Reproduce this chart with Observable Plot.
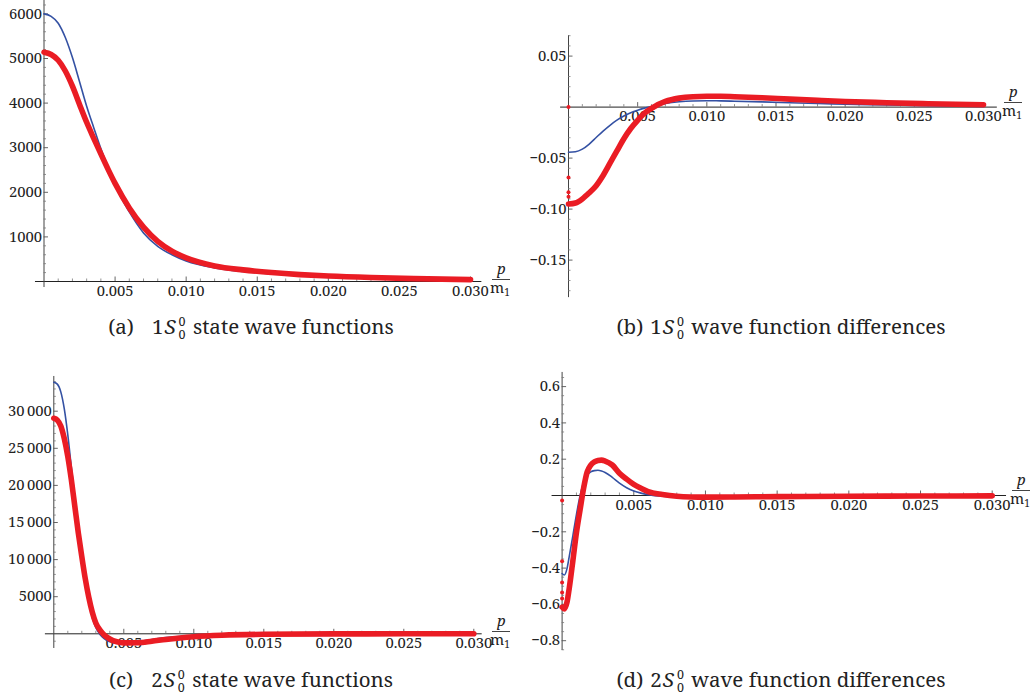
<!DOCTYPE html>
<html>
<head>
<meta charset="utf-8">
<script src="https://cdn.jsdelivr.net/npm/d3@7"></script>
<script src="https://cdn.jsdelivr.net/npm/@observablehq/plot@0.6"></script>
<style>
  html, body { margin: 0; padding: 0; background: #fff; }
  body { width: 1031px; height: 694px; position: relative; overflow: hidden;
         font-family: "Noto Serif", "DejaVu Serif", serif; color: #222; }
  .panel { position: absolute; }
  .cap { position: absolute; width: 600px; text-align: center; font-size: 20.5px;
         line-height: 26px; white-space: nowrap; color: #222; }
  .cap .lab { display: inline-block; }
  .cap i { display: inline-block; margin-left: 1px; }
  .ss { display: inline-flex; flex-direction: column; font-size: 12.5px; line-height: 13px;
        vertical-align: 8px; margin-left: 3px; margin-right: 2px; }
  .ss span { display: block; height: 13px; }
  .frac { position: absolute; width: 0; height: 0; font-size: 15px; color: #222; }
  .frac .num { position: absolute; top: -19px; line-height: 16px; font-style: italic; }
  .frac .bar { position: absolute; left: 0; top: 0; width: 18px; border-top: 1px solid #444; }
  .frac .den { position: absolute; top: 0px; left: -2px; line-height: 16px; white-space: nowrap; }
  .frac .den sub { font-size: 10px; vertical-align: -3px; }
</style>
</head>
<body>
<div id="root"></div>
<script>
// ---------------- data ----------------
const xTicks = [0.005, 0.010, 0.015, 0.020, 0.025, 0.030];
const xTickLabels = ["0.005", "0.010", "0.015", "0.020", "0.025", "0.030"];

// (a) 1S state wave functions
const pA = [0, 0.0005, 0.001, 0.0015, 0.002, 0.0025, 0.003, 0.0035, 0.004, 0.0045, 0.005, 0.006, 0.007, 0.008, 0.009, 0.010, 0.012, 0.014, 0.016, 0.018, 0.020, 0.023, 0.026, 0.030];
const blueA = [6000, 5945, 5790, 5470, 5020, 4480, 3930, 3450, 2980, 2560, 2160, 1560, 1090, 790, 600, 460, 305, 225, 175, 135, 105, 75, 55, 35];
const redA = [5140, 5090, 4960, 4720, 4380, 3970, 3570, 3210, 2860, 2520, 2200, 1650, 1220, 900, 680, 530, 350, 260, 200, 155, 122, 88, 64, 42];
const yTicksA = [1000, 2000, 3000, 4000, 5000, 6000];
const yLabelsA = ["1000", "2000", "3000", "4000", "5000", "6000"];

// (b) 1S wave function differences
const pB = [0, 0.0005, 0.001, 0.0015, 0.002, 0.0025, 0.003, 0.0035, 0.004, 0.0045, 0.005, 0.0055, 0.006, 0.007, 0.008, 0.009, 0.010, 0.011, 0.012, 0.014, 0.016, 0.018, 0.020, 0.023, 0.026, 0.030];
const blueB = [-0.0443, -0.0438, -0.0412, -0.0362, -0.0298, -0.0235, -0.0178, -0.0128, -0.0088, -0.0055, -0.003, -0.001, 0.0006, 0.0035, 0.0052, 0.006, 0.0062, 0.0061, 0.0058, 0.0051, 0.0043, 0.0035, 0.0028, 0.002, 0.0013, 0.0007];
const redB = [-0.095, -0.094, -0.090, -0.084, -0.077, -0.067, -0.055, -0.043, -0.031, -0.021, -0.013, -0.006, -0.0012, 0.0055, 0.0088, 0.0102, 0.0106, 0.0106, 0.0102, 0.0092, 0.0078, 0.0066, 0.0055, 0.0043, 0.0033, 0.0023];
const dotsB = [0, -0.069, -0.0835, -0.088];
const yTicksB = [-0.15, -0.10, -0.05, 0.05];
const yLabelsB = ["\u22120.15", "\u22120.10", "\u22120.05", "0.05"];

// (c) 2S state wave functions
const pC = [0, 0.00025, 0.0005, 0.00075, 0.001, 0.00125, 0.0015, 0.00175, 0.002, 0.00225, 0.0025, 0.00275, 0.003, 0.0033, 0.0036, 0.004, 0.0045, 0.005, 0.006, 0.007, 0.008, 0.009, 0.010, 0.012, 0.015, 0.020, 0.025, 0.030];
const blueC = [33900, 33650, 32600, 30300, 26800, 22500, 18300, 14300, 10300, 6900, 4200, 2200, 850, -100, -650, -1080, -1260, -1280, -1050, -760, -520, -360, -250, -120, -40, 0, 5, 0];
const redC = [29050, 28800, 28000, 26300, 23900, 20800, 17200, 13600, 10400, 7400, 4900, 2900, 1450, 500, -150, -700, -1080, -1220, -1200, -1000, -760, -560, -400, -200, -70, -15, 0, 0];
const yTicksC = [5000, 10000, 15000, 20000, 25000, 30000];
const yLabelsC = ["5000", "10\u2009000", "15\u2009000", "20\u2009000", "25\u2009000", "30\u2009000"];

// (d) 2S wave function differences
const pD = [0, 0.00015, 0.00035, 0.0005, 0.00075, 0.001, 0.00125, 0.0015, 0.00175, 0.002, 0.00225, 0.0025, 0.00275, 0.003, 0.0035, 0.004, 0.0045, 0.005, 0.0055, 0.006, 0.007, 0.008, 0.009, 0.010, 0.012, 0.015, 0.020, 0.025, 0.030];
const blueD = [-0.43, -0.438, -0.40, -0.335, -0.222, -0.105, -0.003, 0.072, 0.112, 0.13, 0.137, 0.139, 0.135, 0.127, 0.1, 0.068, 0.043, 0.025, 0.013, 0.005, -0.004, -0.007, -0.007, -0.006, -0.004, -0.002, -0.001, 0, 0];
const redD = [-0.615, -0.625, -0.585, -0.51, -0.36, -0.205, -0.08, 0.04, 0.13, 0.168, 0.185, 0.193, 0.195, 0.19, 0.168, 0.123, 0.09, 0.061, 0.04, 0.022, 0.006, -0.004, -0.008, -0.009, -0.008, -0.006, -0.004, -0.003, -0.002];
const dotsD = [-0.028, -0.362, -0.48, -0.535, -0.568];
const yTicksD = [-0.8, -0.6, -0.4, -0.2, 0.2, 0.4, 0.6];
const yLabelsD = ["\u22120.8", "\u22120.6", "\u22120.4", "\u22120.2", "0.2", "0.4", "0.6"];

const captions = [
  {id: "(a)", n: "1", text: "state wave functions"},
  {id: "(b)", n: "1", text: "wave function differences"},
  {id: "(c)", n: "2", text: "state wave functions"},
  {id: "(d)", n: "2", text: "wave function differences"}
];

// ---------------- drawing ----------------
const RED = "#ea1c24";
const BLUE = "#3451a3";
const FONT = "'Noto Serif','DejaVu Serif',serif";
const TICK_SIZE = 14.8;
const root = document.getElementById("root");

function panel(cfg) {
  const {left, top, w, h, xRange, yDomain, yRange, xExt, yExt, p, blue, red, dots, yTicks, yLabels, yMinorStep} = cfg;
  const pxX = (xRange[1] - xRange[0]) / 0.03;
  const pxY = (yRange[0] - yRange[1]) / (yDomain[1] - yDomain[0]);
  const blueRows = p.map((x, i) => ({x, y: blue[i]}));
  const redRows = p.map((x, i) => ({x, y: red[i]}));
  const xMinor = d3.range(1, 31).map(k => k * 0.001).filter(v => Math.abs(v / 0.005 - Math.round(v / 0.005)) > 1e-6);
  const kLo = Math.ceil(yExt[0] / yMinorStep), kHi = Math.floor(yExt[1] / yMinorStep);
  const yMinor = d3.range(kLo, kHi + 1).map(k => k * yMinorStep).filter(v => Math.abs(v) > 1e-9 && !yTicks.some(t => Math.abs(t - v) < yMinorStep * 1e-3));
  const fig = Plot.plot({
    width: w, height: h, margin: 0,
    x: {type: "linear", domain: [0, 0.03], range: xRange, axis: null},
    y: {type: "linear", domain: yDomain, range: yRange, axis: null},
    style: {background: "transparent", overflow: "visible", fontFamily: FONT},
    marks: [
      Plot.ruleY([0], {x1: xExt[0], x2: xExt[1], stroke: "#222", strokeWidth: 1}),
      Plot.ruleX([0], {y1: yExt[0], y2: yExt[1], stroke: "#444", strokeWidth: 1}),
      Plot.ruleX(xMinor, {x: d => d, y1: 0, y2: 2.5 / pxY, stroke: "#777", strokeWidth: 0.8}),
      Plot.ruleX(xTicks, {x: d => d, y1: 0, y2: 4.5 / pxY, stroke: "#555", strokeWidth: 0.9}),
      Plot.ruleY(yMinor, {y: d => d, x1: 0, x2: 2.5 / pxX, stroke: "#777", strokeWidth: 0.8}),
      Plot.ruleY(yTicks, {y: d => d, x1: 0, x2: 4.5 / pxX, stroke: "#555", strokeWidth: 0.9}),
      Plot.text(xTicks, {x: d => d, y: 0, text: (d, i) => xTickLabels[i], dy: 9.5, fontSize: TICK_SIZE, fontFamily: FONT, fill: "#222"}),
      Plot.text(yTicks, {x: 0, y: d => d, text: (d, i) => yLabels[i], textAnchor: "end", dx: -2, fontSize: TICK_SIZE, fontFamily: FONT, fill: "#222"}),
      Plot.line(blueRows, {x: "x", y: "y", stroke: BLUE, strokeWidth: 1.6, curve: "monotone-x"}),
      Plot.line(redRows, {x: "x", y: "y", stroke: RED, strokeWidth: 5.6, curve: "monotone-x", strokeLinecap: "round"}),
      Plot.dot(dots, {x: 0, y: d => d, r: 2, fill: RED, stroke: "none"})
    ]
  });
  fig.classList.add("panel");
  fig.style.left = left + "px";
  fig.style.top = top + "px";
  fig.style.position = "absolute";
  root.appendChild(fig);
}

function frac(x, y) {
  const d = document.createElement("div");
  d.className = "frac";
  d.style.left = x + "px";
  d.style.top = y + "px";
  d.innerHTML = '<span class="num" style="left:5px">p</span><div class="bar"></div><span class="den">m<sub>1</sub></span>';
  root.appendChild(d);
}

function caption(c, cx, top, gap) {
  const d = document.createElement("div");
  d.className = "cap";
  d.style.left = (cx - 300) + "px";
  d.style.top = top + "px";
  d.innerHTML = '<span class="lab" style="margin-right:' + gap + 'px">' + c.id + '</span>' +
    c.n + '<i>S</i><span class="ss"><span>0</span><span>0</span></span> ' + c.text;
  root.appendChild(d);
}

panel({left: 0, top: 0, w: 515, h: 305, xRange: [43.5, 470], yDomain: [0, 6000], yRange: [281, 13.4],
  xExt: [-0.0006, 0.0308], yExt: [-135, 6300], p: pA, blue: blueA, red: redA, dots: [],
  yTicks: yTicksA, yLabels: yLabelsA, yMinorStep: 200});
panel({left: 515, top: 0, w: 516, h: 305, xRange: [53, 468], yDomain: [0, 0.05], yRange: [106.6, 55.6],
  xExt: [-0.00057, 0.0310], yExt: [-0.1868, 0.0701], p: pB, blue: blueB, red: redB, dots: dotsB,
  yTicks: yTicksB, yLabels: yLabelsB, yMinorStep: 0.01});
panel({left: 0, top: 350, w: 515, h: 305, xRange: [53.3, 473.3], yDomain: [0, 30000], yRange: [283.3, 60.7],
  xExt: [-0.0006, 0.0306], yExt: [-1980, 34680], p: pC, blue: blueC, red: redC, dots: [],
  yTicks: yTicksC, yLabels: yLabelsC, yMinorStep: 1000});
panel({left: 515, top: 350, w: 516, h: 305, xRange: [46.6, 476.7], yDomain: [0, 0.6], yRange: [145, 36.1],
  xExt: [-0.0007, 0.0310], yExt: [-0.854, 0.678], p: pD, blue: blueD, red: redD, dots: dotsD,
  yTicks: yTicksD, yLabels: yLabelsD, yMinorStep: 0.05});

frac(492, 278.5);
frac(1004, 101.5);
frac(492, 630.5);
frac(1012, 489.5);

caption(captions[0], 251, 313, 18);
caption(captions[1], 781, 313, 7);
caption(captions[2], 251, 666, 18);
caption(captions[3], 781, 666, 7);
</script>
</body>
</html>
